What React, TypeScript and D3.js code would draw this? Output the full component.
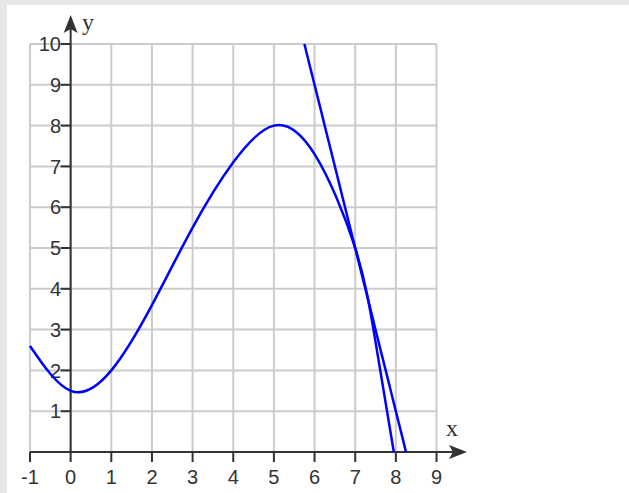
import React from 'react';
import * as d3 from 'd3';

// values
const xTicks = [-1, 0, 1, 2, 3, 4, 5, 6, 7, 8, 9];
const yTicks = [1, 2, 3, 4, 5, 6, 7, 8, 9, 10];
const curveX = [-1, 0, 1, 2, 3, 4, 5, 6, 7, 7.5, 7.95];
const curveY = [2.6, 1.5, 2.0, 3.6, 5.5, 7.1, 8.0, 7.3, 5.0, 2.7, 0];
const tangentX = [5.75, 8.25];
const tangentY = [10, 0];

const W = 629;
const H = 493;
const GRID = '#cccccc';
const AXIS = '#333333';
const BLUE = '#0000ff';

export default function App() {
  const x = d3.scaleLinear().domain([-1, 9]).range([30, 436.5]);
  const y = d3.scaleLinear().domain([0, 10]).range([452, 44]);

  const line = d3.line<[number, number]>()
    .x(d => x(d[0]))
    .y(d => y(d[1]));

  const curvePts = curveX.map((v, i) => [v, curveY[i]] as [number, number]);
  const tangentPts = tangentX.map((v, i) => [v, tangentY[i]] as [number, number]);

  const x0 = x(0);
  const y0 = y(0);

  return (
    <svg width={W} height={H} style={{ position: 'absolute', left: 0, top: 0 }}
      fontFamily="'Liberation Sans', Arial, sans-serif">
      <rect x={0} y={0} width={W} height={H} fill="#e6e6e6" />
      <rect x={7} y={5} width={W - 7} height={H - 5} fill="#ffffff" />

      {/* grid */}
      {xTicks.map(t => (
        <line key={'gx' + t} x1={x(t)} x2={x(t)} y1={y(0)} y2={y(10)} stroke={GRID} strokeWidth={2} />
      ))}
      {yTicks.map(t => (
        <line key={'gy' + t} x1={x(-1)} x2={x(9)} y1={y(t)} y2={y(t)} stroke={GRID} strokeWidth={2} />
      ))}

      {/* axes */}
      <line x1={x(-1)} x2={456} y1={y0} y2={y0} stroke={AXIS} strokeWidth={2} />
      <path d={`M467,${y0} L449,${y0 - 7} L453,${y0} L449,${y0 + 7} Z`} fill={AXIS} />
      <line x1={x0} x2={x0} y1={y0} y2={26} stroke={AXIS} strokeWidth={2} />
      <path d={`M${x0},15 L${x0 - 7},33 L${x0},29 L${x0 + 7},33 Z`} fill={AXIS} />

      {xTicks.map(t => (
        <g key={'tx' + t}>
          <line x1={x(t)} x2={x(t)} y1={y0} y2={y0 + 10} stroke={AXIS} strokeWidth={2} />
          <text x={x(t)} y={484} textAnchor="middle" fontSize={20} fill={AXIS}>{t}</text>
        </g>
      ))}
      {yTicks.map(t => (
        <g key={'ty' + t}>
          <line x1={x0 - 10} x2={x0} y1={y(t)} y2={y(t)} stroke={AXIS} strokeWidth={2} />
          <text x={61} y={y(t)} dy="0.36em" textAnchor="end" fontSize={20} fill={AXIS}>{t}</text>
        </g>
      ))}

      <text x={446} y={436} fontSize={24} fontFamily="'Liberation Serif', serif" fill={AXIS}>x</text>
      <text x={82} y={30} fontSize={24} fontFamily="'Liberation Serif', serif" fill={AXIS}>y</text>

      {/* function and tangent */}
      <path d={line.curve(d3.curveNatural)(curvePts) || ''} fill="none" stroke={BLUE} strokeWidth={2.5} />
      <path d={line.curve(d3.curveLinear)(tangentPts) || ''} fill="none" stroke={BLUE} strokeWidth={2.5} />
    </svg>
  );
}
